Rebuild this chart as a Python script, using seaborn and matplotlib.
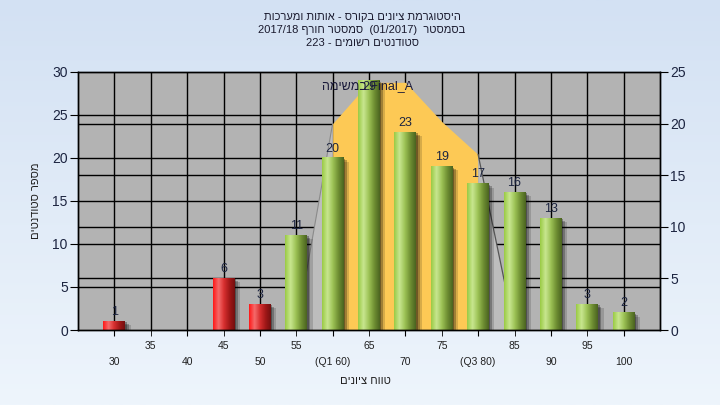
import numpy as np
import seaborn as sns
import matplotlib.pyplot as plt
from matplotlib.colors import LinearSegmentedColormap
from matplotlib.patches import Rectangle

# data
grades = [30, 35, 40, 45, 50, 55, 60, 65, 70, 75, 80, 85, 90, 95, 100]
counts = [1, 0, 0, 6, 3, 11, 20, 29, 23, 19, 17, 16, 13, 3, 2]
pass_grade = 55
q1, q3 = 60, 80

# distribution area (right axis)
area_grades = [55, 60, 65, 70, 75, 80, 85]
area_values = [0, 20, 24, 24, 20.2, 17, 0]

left_ticks = [0, 5, 10, 15, 20, 25, 30]
right_ticks = [0, 5, 10, 15, 20, 25]

title_lines = ["היסטוגרמת ציונים בקורס - אותות ומערכות",
               "בסמסטר  (01/2017)  סמסטר חורף 2017/18",
               "סטודנטים רשומים - 223"]
series_label = "במשימה Final_A"
ylabel = "מספר סטודנטים"
xlabel = "טווח ציונים"


def is_heb(w):
    return any('\u0590' <= c <= '\u05ff' for c in w)


def heb_word(w):
    return w[::-1] if is_heb(w) else w


def rtl(text):
    # right-to-left line: words in reverse order, hebrew letters flipped
    return ' '.join(heb_word(w) for w in reversed(text.split(' ')))


def ltr(text):
    # left-to-right line with hebrew words inside
    return ' '.join(heb_word(w) for w in text.split(' '))


plt.rcParams['font.family'] = ['Liberation Sans', 'DejaVu Sans']
txt_col = '#1c2440'

fig = plt.figure(figsize=(7.2, 4.05), dpi=100)

# light blue background gradient
bg = fig.add_axes([0, 0, 1, 1], zorder=-1)
bg.imshow(np.linspace(0, 1, 256).reshape(-1, 1), aspect='auto', extent=(0, 1, 0, 1),
          cmap=LinearSegmentedColormap.from_list('bg', ['#D3E1F3', '#EEF5FC']))
bg.axis('off')

W, H = 720, 405
px_l, px_r, px_t, px_b = 78, 660, 72, 330
ax = fig.add_axes([px_l / W, 1 - px_b / H, (px_r - px_l) / W, (px_b - px_t) / H])
ax.set_facecolor('#B3B3B3')
ax2 = ax.twinx()
ax.set_xlim(25, 105)
ax.set_ylim(0, 30)
ax2.set_ylim(0, 25)
ytop = left_ticks[-1]

# bars through seaborn, recoloured with gradients afterwards
sns.barplot(x=grades, y=counts, native_scale=True, width=0.6, color='#9CC84A',
            ax=ax, zorder=3)

green = LinearSegmentedColormap.from_list('g', ['#9ACB45', '#C8E690', '#9CC255', '#6F8F33', '#4B6420'])
red = LinearSegmentedColormap.from_list('r', ['#FF1818', '#F56B6B', '#D83030', '#A21818', '#741010'])
grad = np.linspace(0, 1, 64).reshape(1, -1)

for g, c, p in zip(grades, counts, ax.patches):
    if c <= 0:
        p.set_visible(False)
        continue
    x0, w = p.get_x(), p.get_width()
    p.set_alpha(0)
    # soft drop shadow
    for k, a in [(0.2, 0.3), (0.45, 0.25), (0.75, 0.15)]:
        ax.add_patch(Rectangle((x0 + k, -1), w, c + 1 - k * 0.6, color='black',
                               alpha=a, lw=0, zorder=2.5))
    cmap = red if g < pass_grade else green
    ax.imshow(grad, cmap=cmap, extent=(x0, x0 + w, 0, c), aspect='auto', zorder=4)
    if c + 2 > ytop:
        # no room above: label goes inside the bar top
        ax.text(g, c - 0.1, str(c), ha='center', va='top', fontsize=9,
                color=txt_col, zorder=6)
    else:
        ax.text(g, c + 0.75, str(c), ha='center', va='baseline', fontsize=9,
                color=txt_col, zorder=6)

# area: orange between quartiles, grey outside
ag = np.array(area_grades)
ax.fill_between(ag, area_values, where=(ag >= q1) & (ag <= q3), color='#FDC955',
                lw=0, transform=ax2.transData, zorder=1.5)
ax.fill_between(ag, area_values, where=(ag <= q1) | (ag >= q3), color='#BDBDBD',
                lw=0, transform=ax2.transData, zorder=1.5)
ax.plot(ag[:2], area_values[:2], color='#8A8A8A', lw=0.8, transform=ax2.transData, zorder=1.6)
ax.plot(ag[-2:], area_values[-2:], color='#555555', lw=0.9, transform=ax2.transData, zorder=1.6)
ax.text(64.8, 28.4, ltr(series_label), ha='center', va='center', fontsize=9,
        color='#1a1a3a', zorder=7)

# grid: left axis, right axis and grade lines
ax.hlines(left_ticks[1:-1], 25, 105, color='black', lw=1, zorder=0.6)
ax.hlines(right_ticks[1:-1], 25, 105, color='black', lw=1, zorder=0.6,
          transform=ax2.transData)
ax.vlines(grades, 0, 30, color='black', lw=1, zorder=0.6)
ax.set_xlim(25, 105)
ax.set_ylim(0, 30)
ax2.set_ylim(0, 25)

# x ticks on two rows
major = [g for g in grades if g % 10 == 0]
minor = [g for g in grades if g % 10 != 0]
major_lab = []
for g in major:
    if g == q1:
        major_lab.append(f"(Q1 {g})")
    elif g == q3:
        major_lab.append(f"(Q3 {g})")
    else:
        major_lab.append(str(g))
ax.set_xticks(major, major_lab)
ax.set_xticks(minor, [str(g) for g in minor], minor=True)
ax.tick_params(axis='x', which='major', length=4, pad=15.5, labelsize=7.5, labelcolor='#202020')
ax.tick_params(axis='x', which='minor', length=4, pad=4.0, labelsize=7.5, labelcolor='#202020')

ax.set_yticks(left_ticks)
ax.tick_params(axis='y', length=5.8, pad=1.5, labelsize=10, labelcolor=txt_col)
ax2.set_yticks(right_ticks)
ax2.tick_params(axis='y', length=5.8, pad=1.5, labelsize=10, labelcolor=txt_col)

for a in (ax, ax2):
    for s in a.spines.values():
        s.set_color('black')
        s.set_linewidth(1)
        s.set_zorder(8)

ax.set_ylabel(rtl(ylabel), fontsize=8, color='#202020', va='center')
ax.yaxis.set_label_coords(-42 / (px_r - px_l), 0.5)
ax.set_xlabel(rtl(xlabel), fontsize=8, color='#202020', va='center')
ax.xaxis.set_label_coords((365 - px_l) / (px_r - px_l), -(381 - px_b) / (px_b - px_t))

for i, line in enumerate(title_lines):
    fig.text(362 / W, 1 - (17 + 13 * i) / H, rtl(line), ha='center', va='center',
             fontsize=8, color='#1a1a2e')

fig.savefig('out.png', dpi=100)
